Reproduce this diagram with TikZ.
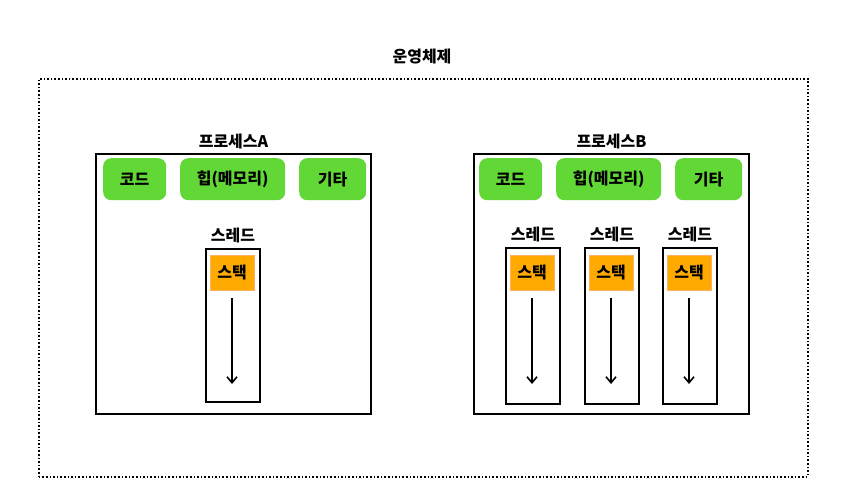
\documentclass[tikz,border=0pt]{standalone}
\usepackage{fontspec}
\setmainfont{Noto Sans CJK KR}
\usepackage{tikz}
\usetikzlibrary{arrows.meta, positioning}
\definecolor{seggreen}{HTML}{61D836}
\definecolor{stackorange}{HTML}{FFAA00}

\begin{document}
\begin{tikzpicture}[
  x=1pt, y=-1pt,
  font=\fontsize{16}{18}\selectfont\bfseries,
  osbox/.style={draw, dotted, line width=1.6pt, anchor=north west, minimum width=769pt, minimum height=398pt, inner sep=0pt},
  procbox/.style={draw, line width=2pt, anchor=north west, minimum width=275pt, minimum height=260pt, inner sep=0pt},
  segbox/.style={fill=seggreen, rounded corners=8pt, anchor=north west, minimum height=42pt, inner sep=0pt},
  threadbox/.style={draw, line width=2pt, anchor=north west, minimum width=54pt, inner sep=0pt},
  stackbox/.style={fill=stackorange, draw=orange!60, line width=0.4pt, minimum width=44pt, minimum height=35pt, inner sep=0pt, anchor=north},
  arrow/.style={-{Straight Barb[length=6pt,width=10pt]}, line width=1.6pt}
]
  \useasboundingbox (0,0) rectangle (854,501);

  % operating system
  \node[osbox] (os) at (38,78) {};
  \node (oslabel) at (422,57) {운영체제};

  % process A
  \node[procbox] (procA) at (95,153) {};
  \node[above=0pt of procA] (procAlabel) {프로세스A};
  \node[segbox, minimum width=63pt] (codeA) at (103,158) {코드};
  \node[segbox, minimum width=105pt] (heapA) at (180,158) {힙(메모리)};
  \node[segbox, minimum width=67pt] (etcA) at (299,158) {기타};

  \node[threadbox, minimum height=153pt] (threadA) at (205,248) {};
  \node[above=1pt of threadA] (threadAlabel) {스레드};
  \node[stackbox] (stackA) at (232,255) {스택};
  \coordinate (endA) at (232,384);
  \draw[arrow] ([yshift=-8pt]stackA.south) -- (endA);

  % process B
  \node[procbox] (procB) at (473,153) {};
  \node[above=0pt of procB] (procBlabel) {프로세스B};
  \node[segbox, minimum width=63pt] (codeB) at (479,158) {코드};
  \node[segbox, minimum width=105pt] (heapB) at (556,158) {힙(메모리)};
  \node[segbox, minimum width=67pt] (etcB) at (675,158) {기타};

  \foreach \i/\x in {1/505, 2/584, 3/662} {
    \node[threadbox, minimum height=156pt] (threadB\i) at (\x,247) {};
    \node[above=1pt of threadB\i] (threadB\i label) {스레드};
    \node[stackbox] (stackB\i) at (\x+27,255) {스택};
    \coordinate (endB\i) at (\x+27,384);
    \draw[arrow] ([yshift=-8pt]stackB\i.south) -- (endB\i);
  }
\end{tikzpicture}
\end{document}
